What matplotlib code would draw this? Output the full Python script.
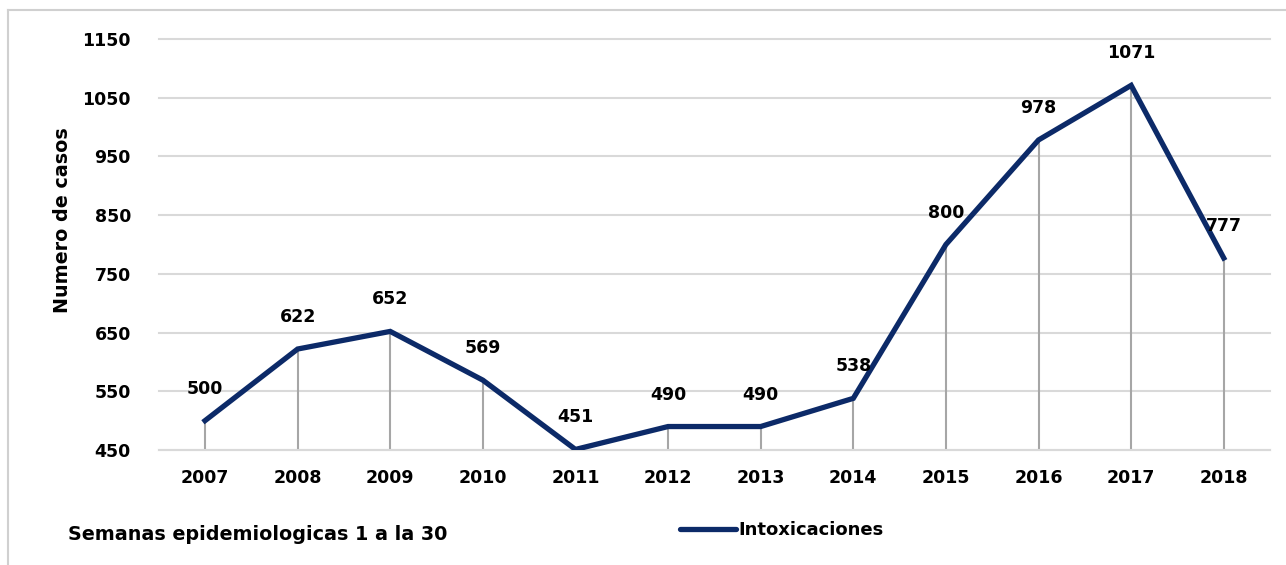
import matplotlib
matplotlib.use("Agg")
import matplotlib.pyplot as plt
from matplotlib.lines import Line2D

years = ["2007", "2008", "2009", "2010", "2011", "2012", "2013", "2014", "2015", "2016", "2017", "2018"]
cases = [500, 622, 652, 569, 451, 490, 490, 538, 800, 978, 1071, 777]
yticks = [450, 550, 650, 750, 850, 950, 1050, 1150]
series_name = "Intoxicaciones"
ylabel = "Numero de casos"
note = "Semanas epidemiologicas 1 a la 30"

plt.rcParams['font.family'] = ['DejaVu Sans']
plt.rcParams['font.weight'] = 'bold'

fig = plt.figure(figsize=(12.86, 5.65), dpi=100)
ax = fig.add_axes([0.1234, 0.2035, 0.8642, 0.7275])

x = list(range(len(years)))
navy = "#0C2A68"
fs = 12.5

ax.vlines(x, yticks[0], cases, color="#A6A6A6", lw=1.5, zorder=2)
line, = ax.plot(x, cases, color=navy, lw=3.8, solid_joinstyle='miter', zorder=3)

for xi, v in zip(x, cases):
    ax.annotate(str(v), (xi, v), xytext=(0, 23), textcoords='offset points',
                ha='center', va='center', fontsize=fs, fontweight='bold', color='black')

ax.set_xlim(-0.5, len(years) - 0.5)
ax.set_ylim(yticks[0], yticks[-1])
ax.set_yticks(yticks)
ax.set_xticks(x)
ax.set_xticklabels(years)
ax.tick_params(length=0, labelsize=fs, pad=14)
ax.tick_params(axis='y', pad=20)
for lab in ax.get_xticklabels() + ax.get_yticklabels():
    lab.set_fontweight('bold')
ax.yaxis.grid(True, color="#D9D9D9", lw=1.5, zorder=0)
for gl in ax.get_ygridlines():
    gl.set_clip_on(False)
ax.set_axisbelow(True)
for s in ax.spines.values():
    s.set_visible(False)
ax.spines['bottom'].set_visible(True)
ax.spines['bottom'].set_color("#D9D9D9")
ax.spines['bottom'].set_linewidth(1.5)

fig.text(63 / 1286, 1 - 220 / 565, ylabel, rotation=90, ha='center', va='center',
         fontsize=13.8, fontweight='bold')
fig.text(68 / 1286, 1 - 535 / 565, note, ha='left', va='center', fontsize=13.8, fontweight='bold')

leg = fig.legend([line], [series_name], loc='center', bbox_to_anchor=(782 / 1286, 1 - 530 / 565),
                 frameon=False, handlelength=3.1, handletextpad=0.1,
                 prop={'weight': 'bold', 'size': 13})
for h in leg.get_lines():
    h.set_solid_capstyle('round')

fig.add_artist(Line2D([8 / 1286, 8 / 1286], [0, 1 - 10 / 565], color="#D0D0D0", lw=1.5,
                      transform=fig.transFigure))
fig.add_artist(Line2D([8 / 1286, 1], [1 - 10 / 565, 1 - 10 / 565], color="#D0D0D0", lw=1.5,
                      transform=fig.transFigure))

fig.savefig("out.png", dpi=100)
